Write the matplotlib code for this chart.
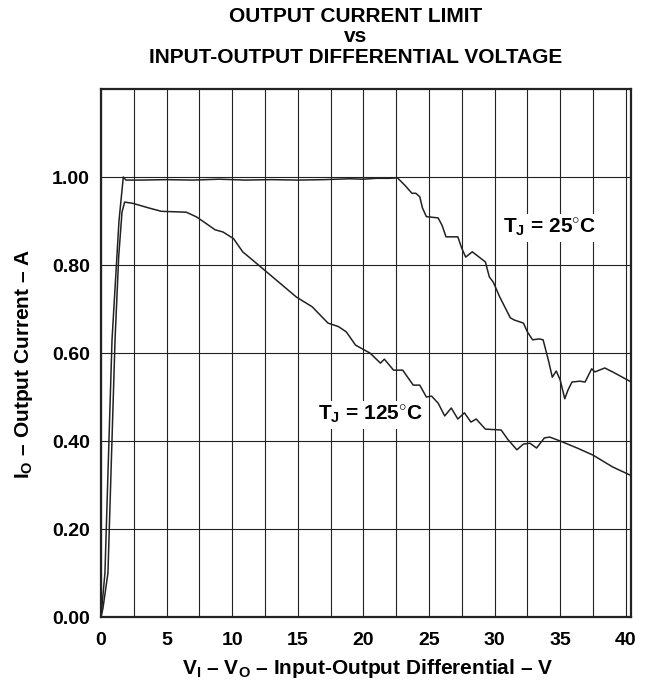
"""Output current limit vs input-output differential voltage (regulator datasheet curve)."""

import matplotlib
matplotlib.use("Agg")
import matplotlib.pyplot as plt
import numpy as np

plt.rcParams["font.family"] = ["Liberation Sans", "DejaVu Sans"]
plt.rcParams["font.weight"] = "bold"
plt.rcParams["mathtext.fontset"] = "custom"
plt.rcParams["mathtext.rm"] = "Liberation Sans:bold"
plt.rcParams["mathtext.it"] = "Liberation Sans:bold"
plt.rcParams["mathtext.bf"] = "Liberation Sans:bold"

# --- data ---
v_25c = [0, 0.3, 0.84, 1.37, 1.7, 1.9, 3, 5, 7, 9, 11, 13, 15, 17, 19, 20, 21, 22,
         22.6, 23.2, 23.7, 24.0, 24.3, 24.5, 24.8, 25.7, 26.0, 26.3, 27.2, 27.5, 27.8,
         28.3, 29.3, 29.6, 29.9, 30.4, 31.2, 31.5, 32.2, 32.5, 32.9, 33.4, 33.7, 34.1,
         34.4, 34.7, 35.0, 35.35, 35.6, 35.9, 36.5, 36.9, 37.4, 37.65, 38.4, 39.0, 40.3]
i_25c = [0, 0.10, 0.63, 0.90, 1.0, 0.993, 0.993, 0.994, 0.993, 0.995, 0.993, 0.994,
         0.993, 0.994, 0.996, 0.995, 0.997, 0.997, 0.998, 0.98, 0.963, 0.963, 0.955,
         0.93, 0.91, 0.907, 0.89, 0.864, 0.864, 0.838, 0.818, 0.83, 0.807, 0.773, 0.761,
         0.727, 0.68, 0.675, 0.668, 0.648, 0.63, 0.632, 0.63, 0.584, 0.545, 0.559, 0.539,
         0.496, 0.516, 0.534, 0.536, 0.534, 0.564, 0.557, 0.566, 0.557, 0.536]

v_125c = [0, 0.15, 0.53, 1.07, 1.35, 1.6, 1.8, 2.45, 3.6, 4.6, 6.5, 7.3, 8.7, 9.3, 10.1,
          10.8, 12.2, 14.9, 16.1, 17.3, 18.1, 18.7, 19.4, 20.0, 20.5, 21.3, 21.6, 22.3,
          23.0, 23.8, 24.3, 24.8, 25.2, 25.7, 26.2, 26.7, 27.2, 27.7, 28.2, 28.6, 29.3,
          30.5, 31.0, 31.7, 32.2, 32.7, 33.2, 33.8, 34.2, 35.0, 36.3, 37.5, 39.0, 40.3]
i_125c = [0, 0.02, 0.10, 0.63, 0.82, 0.92, 0.943, 0.94, 0.93, 0.922, 0.92, 0.909, 0.88,
          0.875, 0.86, 0.83, 0.795, 0.727, 0.705, 0.668, 0.66, 0.648, 0.618, 0.608, 0.60,
          0.577, 0.586, 0.561, 0.561, 0.527, 0.527, 0.50, 0.502, 0.486, 0.457, 0.475,
          0.45, 0.464, 0.443, 0.45, 0.427, 0.425, 0.404, 0.38, 0.393, 0.395, 0.384, 0.407,
          0.409, 0.40, 0.384, 0.368, 0.341, 0.323]

x_ticks = [0, 5, 10, 15, 20, 25, 30, 35, 40]
y_ticks = [0.0, 0.2, 0.4, 0.6, 0.8, 1.0]

W, H = 653, 690
fig = plt.figure(figsize=(W / 100, H / 100), dpi=100)
ax = fig.add_axes([101 / W, 1 - 617 / H, 530 / W, 528 / H])

ax.plot(v_25c, i_25c, color="#222222", lw=1.1)
ax.plot(v_125c, i_125c, color="#222222", lw=1.1)

ax.set_xlim(0, 40.4)
ax.set_ylim(0, 1.2)
ax.set_xticks(x_ticks)
ax.set_xticks(np.arange(2.5, 40, 5), minor=True)
ax.set_yticks(y_ticks)
ax.set_xticklabels([str(t) for t in x_ticks])
ax.set_yticklabels([f"{t:.2f}" for t in y_ticks])
ax.tick_params(which="both", length=0, labelsize=14)
ax.tick_params(axis="x", pad=11)
ax.tick_params(axis="y", pad=8)
ax.grid(True, which="both", color="#222222", lw=0.8)
ax.set_axisbelow(True)
for s in ax.spines.values():
    s.set_linewidth(1.6)
    s.set_color("#222222")

box = dict(facecolor="white", edgecolor="none", pad=2)
ax.text(34.2, 0.884, r"T$_{\mathrm{J}}$ = 25$^{\circ}$C", fontsize=15, ha="center",
        va="center", bbox=box)
ax.text(20.5, 0.459, r"T$_{\mathrm{J}}$ = 125$^{\circ}$C", fontsize=15, ha="center",
        va="center", bbox=box)

fig.text(356 / W, 1 - 37 / H,
         "OUTPUT CURRENT LIMIT\nvs\nINPUT-OUTPUT DIFFERENTIAL VOLTAGE",
         ha="center", va="center", fontsize=15, fontweight="bold", linespacing=1.1)
fig.text(368 / W, 1 - 669 / H,
         r"V$_{\mathrm{I}}$ – V$_{\mathrm{O}}$ – Input-Output Differential – V",
         ha="center", va="center", fontsize=15)
fig.text(24 / W, 1 - 364 / H, r"I$_{\mathrm{O}}$ – Output Current – A",
         ha="center", va="center", rotation=90, fontsize=15)

fig.savefig("out.png", dpi=100)
